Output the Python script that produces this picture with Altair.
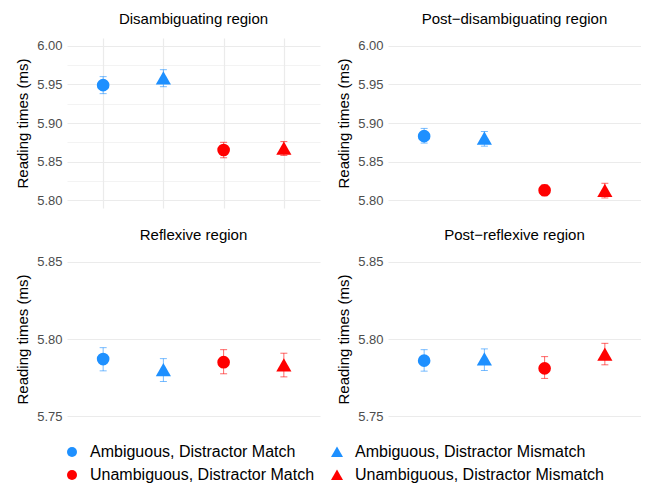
import altair as alt
import pandas as pd

conditions = ["Ambiguous, Distractor Match", "Ambiguous, Distractor Mismatch",
              "Unambiguous, Distractor Match", "Unambiguous, Distractor Mismatch"]
# legend order (laid out column by column so rows read Ambiguous / Unambiguous)
legend_order = [conditions[0], conditions[2], conditions[1], conditions[3]]
legend_colors = ["#1E90FF", "#FF0000", "#1E90FF", "#FF0000"]
TRI = "M0,-1.1L1.2,1L-1.2,1Z"
legend_shapes = ["circle", "circle", TRI, TRI]

regions = ["Disambiguating region", "Post\u2212disambiguating region",
           "Reflexive region", "Post\u2212reflexive region"]

dis_mean = [5.949, 5.958, 5.865, 5.867]
dis_lo = [5.938, 5.947, 5.855, 5.858]
dis_hi = [5.960, 5.969, 5.875, 5.876]

pdis_mean = [5.883, 5.880, 5.813, 5.8125]
pdis_lo = [5.874, 5.870, 5.806, 5.803]
pdis_hi = [5.893, 5.889, 5.820, 5.822]

refl_mean = [5.787, 5.780, 5.785, 5.783]
refl_lo = [5.7794, 5.7725, 5.7775, 5.7755]
refl_hi = [5.7944, 5.7873, 5.7931, 5.7908]

prefl_mean = [5.786, 5.787, 5.781, 5.790]
prefl_lo = [5.7792, 5.7796, 5.7745, 5.7833]
prefl_hi = [5.7931, 5.7936, 5.7886, 5.7972]

top_domain = [5.79, 6.01]
top_ticks = [5.80, 5.825, 5.85, 5.875, 5.90, 5.925, 5.95, 5.975, 6.00]
top_major = [5.80, 5.85, 5.90, 5.95, 6.00]
bot_domain = [5.745, 5.855]
bot_ticks = [5.75, 5.80, 5.85]

FONT = "Liberation Sans"
color_scale = alt.Scale(domain=legend_order, range=legend_colors)
shape_scale = alt.Scale(domain=legend_order, range=legend_shapes)
legend = alt.Legend(orient="none", legendX=-3, legendY=406, columns=2, title=None,
                    labelFont=FONT, labelFontSize=16, labelColor="black",
                    symbolSize=100, symbolStrokeWidth=0, symbolOpacity=1,
                    rowPadding=7, columnPadding=14, labelOffset=10, labelLimit=400)


def panel(title, means, lo, hi, domain, ticks, minor=False, xgrid=False):
    df = pd.DataFrame({"cond": conditions, "mean": means, "lo": lo, "hi": hi})
    if xgrid:
        xaxis = alt.Axis(labels=False, ticks=False, domain=False, title=None,
                         grid=True, gridColor="#EBEBEB", gridWidth=1.2)
    else:
        xaxis = None
    x = alt.X("cond:N", sort=conditions, scale=alt.Scale(type="point", padding=0.6),
              axis=xaxis)
    if minor:
        yaxis = alt.Axis(values=ticks, title="Reading times (ms)",
                         labelExpr="round(datum.value*1000) % 50 == 0 ? format(datum.value, '.2f') : ''",
                         gridWidth=alt.condition("round(datum.value*1000) % 50 == 0",
                                                 alt.value(1.2), alt.value(0.6)))
    else:
        yaxis = alt.Axis(values=ticks, title="Reading times (ms)", format=".2f",
                         gridWidth=1.2)
    yscale = alt.Scale(domain=domain, nice=False, zero=False)
    base = alt.Chart(df)
    col = alt.Color("cond:N", scale=color_scale, legend=legend)
    shp = alt.Shape("cond:N", scale=shape_scale, legend=legend)
    rule = base.mark_rule(strokeWidth=1, opacity=0.6).encode(
        x=x, y=alt.Y("lo:Q", scale=yscale, axis=yaxis), y2="hi:Q", color=col)
    cap_lo = base.mark_tick(size=7, thickness=1, opacity=0.6, orient="horizontal").encode(
        x=x, y=alt.Y("lo:Q", scale=yscale, axis=yaxis), color=col)
    cap_hi = base.mark_tick(size=7, thickness=1, opacity=0.6, orient="horizontal").encode(
        x=x, y=alt.Y("hi:Q", scale=yscale, axis=yaxis), color=col)
    pts = base.mark_point(filled=True, opacity=1, size=160, strokeWidth=0).encode(
        x=x, y=alt.Y("mean:Q", scale=yscale, axis=yaxis), color=col, shape=shp)
    return alt.layer(rule, cap_lo, cap_hi, pts).properties(
        width=253, height=170,
        title=alt.TitleParams(title, fontSize=15, font=FONT, fontWeight="normal",
                              color="black", anchor="middle", offset=11))


p1 = panel(regions[0], dis_mean, dis_lo, dis_hi, top_domain, top_ticks, minor=True, xgrid=True)
p2 = panel(regions[1], pdis_mean, pdis_lo, pdis_hi, top_domain, top_major)
p3 = panel(regions[2], refl_mean, refl_lo, refl_hi, bot_domain, bot_ticks)
p4 = panel(regions[3], prefl_mean, prefl_lo, prefl_hi, bot_domain, bot_ticks)

chart = alt.concat(p1, p2, p3, p4, columns=2,
                   spacing=alt.RowColnumber(row=20, column=16)).properties(
    padding={"left": 7, "top": 4, "right": 0, "bottom": 0}
).configure_view(stroke=None).configure_axis(
    domain=False, ticks=False, gridColor="#EBEBEB",
    labelColor="#4D4D4D", labelFontSize=13, labelFont=FONT, labelPadding=5,
    titleFont=FONT, titleFontSize=15, titleFontWeight="normal", titleColor="black",
    titlePadding=6
)

chart.save("out.html", embed_options={"renderer": "svg", "actions": False})
